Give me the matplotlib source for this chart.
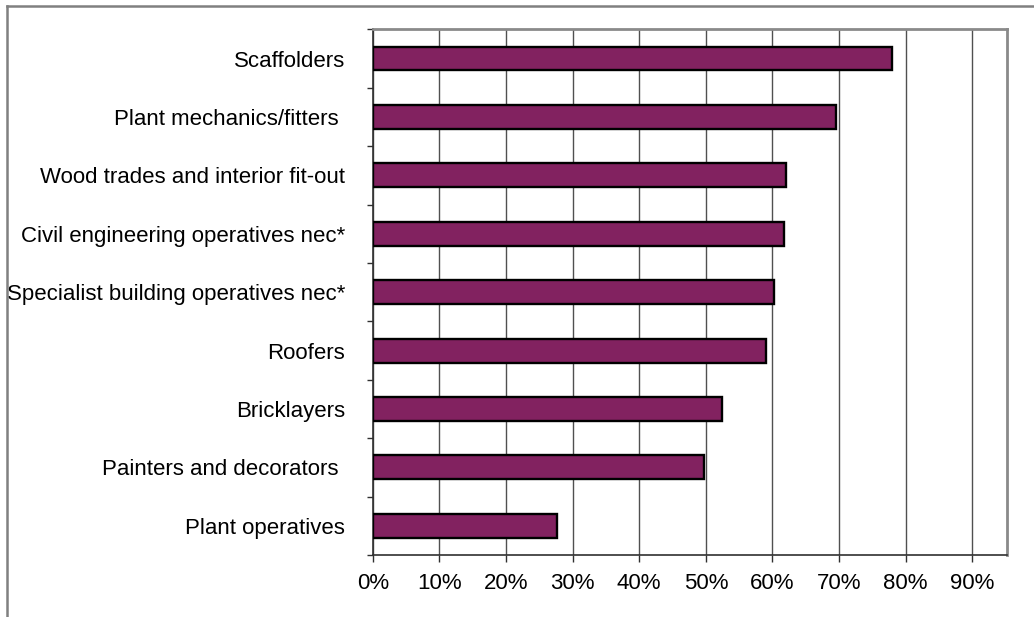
import matplotlib
matplotlib.use("Agg")
import matplotlib.pyplot as plt
from matplotlib.ticker import FixedLocator, PercentFormatter
import matplotlib.lines as mlines

categories = [
    "Scaffolders",
    "Plant mechanics/fitters ",
    "Wood trades and interior fit-out",
    "Civil engineering operatives nec*",
    "Specialist building operatives nec*",
    "Roofers",
    "Bricklayers",
    "Painters and decorators ",
    "Plant operatives",
]
values = [0.779, 0.695, 0.621, 0.618, 0.603, 0.590, 0.524, 0.497, 0.277]
xticks = [0.0, 0.1, 0.2, 0.3, 0.4, 0.5, 0.6, 0.7, 0.8, 0.9]

plt.rcParams['font.family'] = ['Liberation Sans', 'DejaVu Sans']
plt.rcParams['font.size'] = 16

W, H = 1034, 617
fig = plt.figure(figsize=(W / 100, H / 100), dpi=100)
ax = fig.add_axes([372.7 / W, 1 - 555 / H, (1007 - 372.7) / W, (555 - 29.3) / H])

n = len(categories)
ypos = list(range(n))[::-1]
ax.barh(ypos, values, height=0.41, color='#822260', edgecolor='black',
        linewidth=1.7, zorder=3)

ax.set_xlim(0, 0.952)
ax.set_ylim(-0.5, n - 0.5)
ax.xaxis.set_major_locator(FixedLocator(xticks))
ax.xaxis.set_major_formatter(PercentFormatter(1.0, decimals=0))
ax.grid(axis='x', color='#505050', linewidth=1.0, zorder=1)

# y: major ticks at category boundaries, labels at centers
ax.yaxis.set_major_locator(FixedLocator([i - 0.5 for i in range(n + 1)]))
ax.yaxis.set_major_formatter(plt.NullFormatter())
ax.yaxis.set_minor_locator(FixedLocator(ypos))
ax.set_yticklabels(categories, minor=True)
ax.tick_params(axis='y', which='minor', length=0, pad=20)
ax.tick_params(axis='y', which='major', length=4.5, width=1, color='#303030', direction='out')
ax.tick_params(axis='x', which='major', length=5, width=1, color='#303030', direction='out', pad=8)

for s in ['left', 'bottom']:
    ax.spines[s].set_color('#303030')
    ax.spines[s].set_linewidth(1.2)
for s in ['top', 'right']:
    ax.spines[s].set_color('#8a8a8a')
    ax.spines[s].set_linewidth(2)

# outer frame (top and left edges)
fig.add_artist(mlines.Line2D([7 / W, 1.0], [1 - 6 / H, 1 - 6 / H], color='#808080', linewidth=1.8, transform=fig.transFigure))
fig.add_artist(mlines.Line2D([7 / W, 7 / W], [1 - 6 / H, 0.0], color='#808080', linewidth=1.8, transform=fig.transFigure))

fig.savefig("out.png", dpi=100)
